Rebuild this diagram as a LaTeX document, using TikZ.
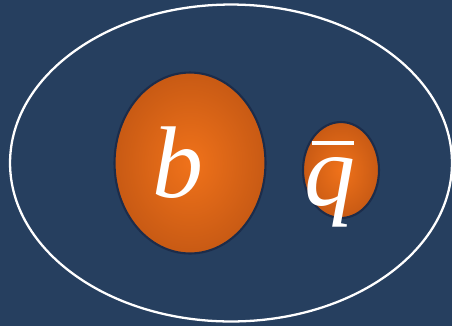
\documentclass[tikz,border=0pt]{standalone}
\usepackage{fontspec}
\setmainfont{Liberation Serif}
\usetikzlibrary{shapes.geometric,positioning}
\definecolor{mynavy}{RGB}{38,63,95}
\definecolor{myrim}{RGB}{28,44,74}
\definecolor{myorange}{RGB}{240,114,26}
\definecolor{mydarkorange}{RGB}{200,90,20}

\begin{document}
\begin{tikzpicture}[x=0.02cm,y=-0.02cm,
    every node/.style={font=\fontsize{58}{60}\selectfont\itshape,text=white},
    quark/.style={ellipse,draw=myrim,line width=1.2pt,inner sep=0pt,
      inner color=myorange,outer color=mydarkorange}]
  \fill[mynavy] (0,0) rectangle (452,326);
  \useasboundingbox (0,0) rectangle (452,326);
  % hadron
  \node[ellipse,draw=white,line width=1.3pt,minimum width=8.84cm,
        minimum height=6.34cm] (meson) at (231,163) {};
  % constituents
  \node[quark,minimum width=3.02cm,minimum height=3.62cm] (bq) at (190,163) {};
  \node[quark,minimum width=1.52cm,minimum height=1.92cm] (qbar) at (341,170) {};
  \node (blabel) at (178,163) {b};
  \node (qlabel) at (330,184)
    {\rlap{\hspace{4pt}\rule[34pt]{24pt}{2.4pt}}q};
\end{tikzpicture}
\end{document}
